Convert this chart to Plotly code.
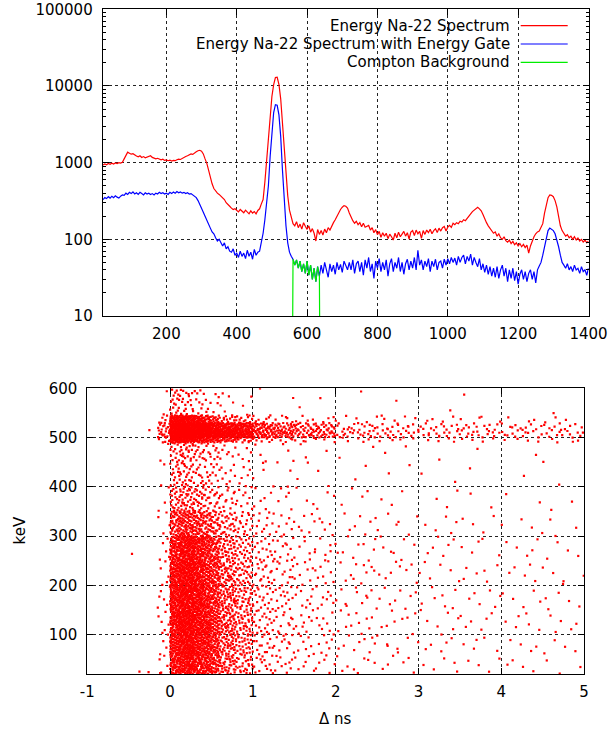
import plotly.graph_objects as go

# ---------------- Top panel: Na-22 energy spectra (counts per 5 keV bin) ----------------
energy_keV = list(range(20, 1401, 5))

spectrum_red = [
    930, 960, 940, 975, 950, 985, 960, 990, 975, 1000, 985, 1010, 1120, 1250, 1370, 1330, 1290, 1310, 1250, 1220,
    1190, 1230, 1170, 1200, 1160, 1180, 1210, 1230, 1170, 1150, 1120, 1140, 1100, 1090, 1110, 1070, 1085, 1060, 1080, 1050,
    1070, 1060, 1090, 1110, 1100, 1140, 1180, 1200, 1230, 1260, 1300, 1280, 1350, 1390, 1430, 1450, 1410, 1300, 1120, 980,
    800, 640, 530, 460, 420, 400, 385, 365, 350, 330, 300, 280, 270, 255, 245, 250, 235, 228, 245, 232,
    222, 240, 225, 215, 235, 220, 230, 215, 238, 250, 290, 330, 560, 1080, 2300, 4400, 7300, 10400, 12900, 13000,
    10500, 6800, 3300, 1400, 650, 370, 240, 190, 160, 150, 170, 142, 158, 136, 165, 148, 135, 150, 124, 138,
    120, 95, 134, 116, 130, 114, 136, 122, 142, 132, 152, 165, 180, 200, 225, 245, 262, 275, 270, 255,
    220, 190, 175, 162, 172, 155, 165, 146, 162, 144, 148, 152, 132, 142, 122, 134, 115, 127, 106, 122,
    110, 120, 102, 117, 108, 98, 120, 105, 124, 108, 117, 127, 110, 122, 101, 124, 130, 112, 132, 118,
    127, 103, 130, 116, 132, 122, 135, 118, 130, 137, 123, 140, 128, 142, 147, 128, 144, 152, 143, 162,
    155, 165, 160, 172, 168, 180, 175, 190, 205, 215, 230, 240, 255, 262, 250, 235, 210, 180, 165, 150,
    138, 128, 120, 125, 110, 118, 105, 100, 108, 96, 92, 98, 88, 94, 85, 90, 82, 88, 80, 86,
    78, 84, 66, 82, 95, 108, 118, 125, 128, 140, 160, 220, 290, 350, 380, 375, 360, 320, 265, 195,
    150, 130, 118, 110, 115, 105, 110, 100, 108, 98, 104, 95, 100, 92, 98, 90, 95,
]

spectrum_gated = [
    330, 350, 340, 360, 345, 365, 350, 370, 355, 345, 365, 380, 375, 400, 385, 410, 395, 415, 390, 405,
    385, 410, 395, 380, 405, 390, 400, 385, 395, 380, 400, 390, 410, 395, 405, 390, 400, 385, 410, 395,
    415, 400, 420, 405, 415, 400, 410, 395, 405, 390, 395, 380, 370, 350, 320, 280, 250, 225, 200, 175,
    155, 140, 125, 118, 105, 95, 100, 88, 82, 90, 75, 80, 70, 68, 75, 62, 66, 58, 70, 60,
    66, 56, 72, 60, 68, 55, 74, 62, 68, 70, 88, 120, 180, 280, 500, 1200, 2600, 4500, 5700, 5600,
    4200, 2200, 800, 300, 150, 90, 68, 60, 55, 46, 54, 42, 52, 38, 48, 36, 52, 34, 46, 30,
    42, 28, 44, 33, 46, 36, 50, 40, 32, 48, 38, 46, 35, 50, 40, 47, 37, 52, 44, 40,
    50, 40, 54, 36, 48, 52, 38, 50, 34, 54, 42, 58, 38, 48, 31, 52, 42, 56, 38, 50,
    40, 54, 33, 48, 56, 38, 50, 42, 58, 38, 50, 35, 48, 55, 40, 52, 42, 58, 40, 72,
    46, 54, 40, 52, 44, 56, 38, 52, 44, 55, 40, 50, 52, 42, 55, 46, 56, 48, 58, 50,
    57, 46, 60, 50, 58, 62, 48, 60, 52, 64, 46, 58, 50, 44, 56, 40, 48, 37, 46, 35,
    44, 33, 42, 32, 44, 31, 40, 46, 33, 42, 28, 40, 31, 42, 29, 38, 26, 35, 40, 30,
    38, 28, 36, 40, 30, 38, 27, 40, 45, 50, 62, 78, 100, 130, 140, 136, 130, 118, 100, 80,
    62, 50, 46, 42, 48, 40, 44, 38, 46, 40, 42, 36, 44, 38, 40, 34, 42,
]

# Compton background window (keV) taken from the gated spectrum
compton_lo, compton_hi = 557, 638
compton_floor = 0.1  # below the axis: the trace drops off the bottom at both window edges

compton_x = [compton_lo] + [e for e in energy_keV if compton_lo < e < compton_hi] + [compton_hi]
compton_y = [compton_floor] + [v for e, v in zip(energy_keV, spectrum_gated) if compton_lo < e < compton_hi] + [compton_floor]

# ---------------- Bottom panel: energy vs time difference scatter ----------------
# Point density: number of dots per (time bin x energy band) cell
dt_edges = [-0.15, 0, 0.1, 0.2, 0.3, 0.4, 0.5, 0.6, 0.8, 1.0, 1.25, 1.5, 2.0, 2.5, 3.0, 3.5, 4.0, 4.5, 5.0]
kev_edges = [20, 60, 100, 150, 200, 250, 300, 350, 400, 450, 490, 500, 515, 530, 545, 600]
cell_counts = [
    [4, 50, 60, 60, 55, 45, 35, 40, 25, 14, 10, 12, 8, 6, 5, 4, 4, 3],        # 20-60
    [4, 55, 68, 68, 60, 50, 38, 42, 28, 15, 11, 13, 9, 7, 5, 5, 4, 4],        # 60-100
    [6, 70, 90, 90, 80, 65, 50, 55, 35, 20, 14, 17, 11, 8, 7, 6, 6, 5],       # 100-150
    [6, 70, 90, 88, 78, 62, 48, 52, 34, 20, 14, 17, 11, 8, 7, 6, 5, 5],       # 150-200
    [5, 65, 85, 82, 72, 58, 45, 48, 30, 18, 13, 16, 10, 8, 6, 6, 5, 5],       # 200-250
    [5, 60, 78, 75, 65, 52, 40, 42, 26, 16, 12, 14, 9, 7, 6, 5, 5, 4],        # 250-300
    [4, 35, 45, 42, 36, 30, 24, 28, 18, 12, 9, 11, 7, 6, 5, 4, 4, 3],         # 300-350
    [3, 18, 22, 20, 17, 14, 11, 14, 9, 6, 5, 6, 4, 3, 3, 2, 2, 2],            # 350-400
    [2, 12, 14, 12, 10, 8, 7, 8, 6, 4, 3, 4, 2, 2, 2, 1, 1, 1],               # 400-450
    [2, 12, 14, 12, 10, 8, 6, 7, 5, 3, 3, 3, 2, 2, 1, 1, 1, 1],               # 450-490
    [5, 20, 22, 22, 18, 14, 12, 16, 12, 6, 5, 7, 5, 5, 4, 4, 4, 4],           # 490-500
    [12, 45, 50, 50, 45, 40, 35, 70, 55, 38, 28, 40, 18, 15, 14, 13, 12, 12], # 500-515
    [10, 42, 48, 48, 42, 36, 30, 60, 45, 32, 22, 34, 14, 12, 11, 10, 10, 9],  # 515-530
    [4, 30, 32, 30, 24, 18, 12, 14, 10, 6, 5, 7, 5, 5, 4, 4, 3, 3],           # 530-545
    [2, 15, 12, 10, 7, 5, 4, 5, 3, 2, 1, 2, 1, 1, 1, 1, 0, 1],                # 545-600
]
# isolated dots outside the main cloud
stray_dt = [-0.46, -0.25, -0.37, -0.26, -0.12]
stray_kev = [264, 515, 25, 24, 22]

# tick labels (gnuplot uses a plain hyphen for negatives)
dt_ticks = [-1, 0, 1, 2, 3, 4, 5]
dt_ticktext = ["-1", "0", "1", "2", "3", "4", "5"]


def halton(i, b):
    f, r = 1.0, 0.0
    while i > 0:
        f /= b
        r += f * (i % b)
        i //= b
    return r


scat_x, scat_y = [], []
cell = 0
for yi, row in enumerate(cell_counts):
    y0, y1 = kev_edges[yi], kev_edges[yi + 1]
    for xi, n in enumerate(row):
        x0, x1 = dt_edges[xi], dt_edges[xi + 1]
        off = 17 + cell * 53
        for k in range(n):
            scat_x.append(x0 + halton(k + off, 2) * (x1 - x0))
            scat_y.append(y0 + halton(k + off, 3) * (y1 - y0))
        cell += 1
scat_x += stray_dt
scat_y += stray_kev

# ---------------- Figure ----------------
W, H = 610, 731
FONT = "DejaVu Sans"
FS = 15

fig = go.Figure()
fig.add_trace(go.Scatter(x=energy_keV, y=spectrum_red, mode="lines",
                         line=dict(color="#ff0000", width=1.2), xaxis="x", yaxis="y",
                         name="Energy Na-22 Spectrum"))
fig.add_trace(go.Scatter(x=energy_keV, y=spectrum_gated, mode="lines",
                         line=dict(color="#0000ff", width=1.2), xaxis="x", yaxis="y",
                         name="Energy Na-22 Spectrum with Energy Gate"))
fig.add_trace(go.Scatter(x=compton_x, y=compton_y, mode="lines",
                         line=dict(color="#00ee00", width=1.2), xaxis="x", yaxis="y",
                         name="Compton Background"))
fig.add_trace(go.Scatter(x=scat_x, y=scat_y, mode="markers",
                         marker=dict(color="#ff0000", size=2.2, symbol="square", line=dict(width=0)),
                         xaxis="x2", yaxis="y2", name="events"))


def px_x(p):
    return p / W


def px_y(p):
    return 1 - p / H


grid = dict(showgrid=True, gridcolor="#222222", griddash="dot", gridwidth=1)
axcommon = dict(showline=True, linecolor="black", linewidth=1, mirror="ticks",
                ticks="inside", ticklen=6, tickcolor="black", zeroline=False, automargin=False,
                tickfont=dict(family=FONT, size=FS, color="black"), **grid)

fig.update_layout(
    template="none",
    width=W, height=H, margin=dict(l=0, r=0, t=0, b=0, pad=0), autosize=False,
    paper_bgcolor="white", plot_bgcolor="white", showlegend=False,
    font=dict(family=FONT, size=FS, color="black"),
    xaxis=dict(domain=[px_x(102.7), px_x(588.5)], range=[19, 1400], dtick=200, tick0=0,
               anchor="y", ticklabelstandoff=4, **axcommon),
    yaxis=dict(domain=[px_y(316), px_y(9.3)], type="log", range=[1, 5], dtick=1,
               anchor="x", tickformat="d", ticklabelstandoff=6,
               minor=dict(ticks="inside", ticklen=3, tickcolor="black", dtick="D1", showgrid=False),
               **axcommon),
    xaxis2=dict(domain=[px_x(87.3), px_x(584)], range=[-1, 5],
                tickmode="array", tickvals=dt_ticks, ticktext=dt_ticktext,
                anchor="y2", ticklabelstandoff=4, **axcommon),
    yaxis2=dict(domain=[px_y(674), px_y(388.3)], range=[20, 600], tick0=0, dtick=100,
                anchor="x2", ticklabelstandoff=6, **axcommon),
)

# axis titles of the lower panel
fig.add_annotation(x=px_x(335.7), y=px_y(719), xref="paper", yref="paper", text="Δ ns",
                   showarrow=False, xanchor="center", yanchor="middle",
                   font=dict(family=FONT, size=FS, color="black"))
fig.add_annotation(x=px_x(19.5), y=px_y(531), xref="paper", yref="paper", text="keV",
                   showarrow=False, xanchor="center", yanchor="middle", textangle=-90,
                   font=dict(family=FONT, size=FS, color="black"))

# legend drawn gnuplot-style: right-aligned text with the line sample to its right
legend_items = [("Energy Na-22 Spectrum", "#ff0000", 25.7),
                ("Energy Na-22 Spectrum with Energy Gate", "#0000ff", 44.0),
                ("Compton Background", "#00ee00", 62.3)]
for text, color, ypx in legend_items:
    fig.add_annotation(x=px_x(511.7), y=px_y(ypx), xref="paper", yref="paper", text=text,
                       showarrow=False, xanchor="right", yanchor="middle",
                       font=dict(family=FONT, size=FS, color="black"))
    fig.add_shape(type="line", xref="paper", yref="paper",
                  x0=px_x(520.7), x1=px_x(567.7), y0=px_y(ypx), y1=px_y(ypx),
                  line=dict(color=color, width=1.2))

fig.write_html("out.html")
